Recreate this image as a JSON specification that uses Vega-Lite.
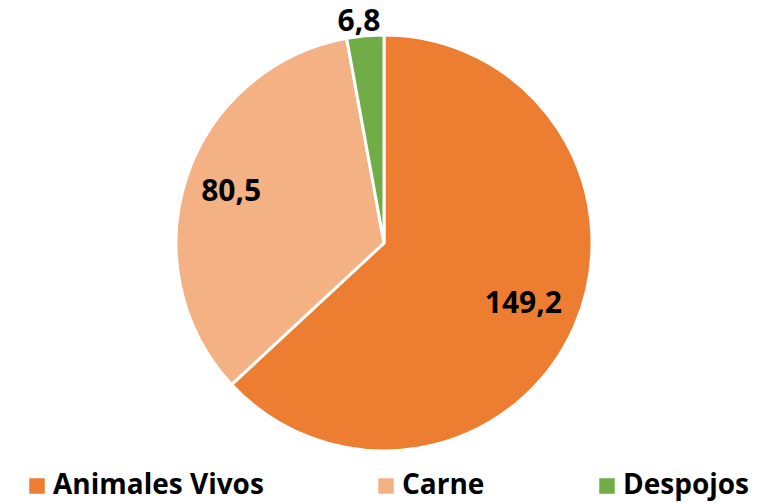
{
  "$schema": "https://vega.github.io/schema/vega-lite/v6.json",
  "width": 764,
  "height": 486,
  "padding": {"left": 2, "top": 0, "right": 0, "bottom": 17},
  "autosize": {"type": "none"},
  "background": "white",
  "config": {"view": {"stroke": null}},
  "data": {
    "values": [
      {"categoria": "Animales Vivos", "valor": 149.2, "etiqueta": "149,2", "orden": 1},
      {"categoria": "Carne", "valor": 80.5, "etiqueta": "80,5", "orden": 2},
      {"categoria": "Despojos", "valor": 6.8, "etiqueta": "6,8", "orden": 3}
    ]
  },
  "encoding": {
    "theta": {"field": "valor", "type": "quantitative", "stack": true},
    "order": {"field": "orden", "type": "quantitative"}
  },
  "layer": [
    {
      "mark": {"type": "arc", "outerRadius": 208, "stroke": "white", "strokeWidth": 3},
      "encoding": {
        "color": {
          "field": "categoria",
          "type": "nominal",
          "sort": ["Animales Vivos", "Carne", "Despojos"],
          "scale": {"domain": ["Animales Vivos", "Carne", "Despojos"], "range": ["#ED7D31", "#F4B183", "#70AD47"]},
          "legend": {
            "title": null,
            "orient": "none",
            "legendX": 21,
            "legendY": 472,
            "padding": 0,
            "direction": "horizontal",
            "symbolType": "square",
            "symbolSize": 240,
            "symbolStrokeWidth": 0,
            "labelFont": "Open Sans",
            "labelFontWeight": "bold",
            "labelFontSize": 28,
            "labelColor": "black",
            "labelOffset": 2,
            "columnPadding": 108,
            "labelLimit": 400
          }
        }
      }
    },
    {
      "mark": {"type": "text", "radius": 152, "font": "Open Sans", "fontWeight": "bold", "fontSize": 30, "color": "black"},
      "encoding": {"text": {"condition": {"test": "datum.orden == 1", "field": "etiqueta"}, "value": ""}}
    },
    {
      "mark": {"type": "text", "radius": 161, "font": "Open Sans", "fontWeight": "bold", "fontSize": 30, "color": "black"},
      "encoding": {"text": {"condition": {"test": "datum.orden == 2", "field": "etiqueta"}, "value": ""}}
    },
    {
      "mark": {"type": "text", "radius": 222, "dx": -5, "font": "Open Sans", "fontWeight": "bold", "fontSize": 30, "color": "black"},
      "encoding": {"text": {"condition": {"test": "datum.orden == 3", "field": "etiqueta"}, "value": ""}}
    }
  ]
}
